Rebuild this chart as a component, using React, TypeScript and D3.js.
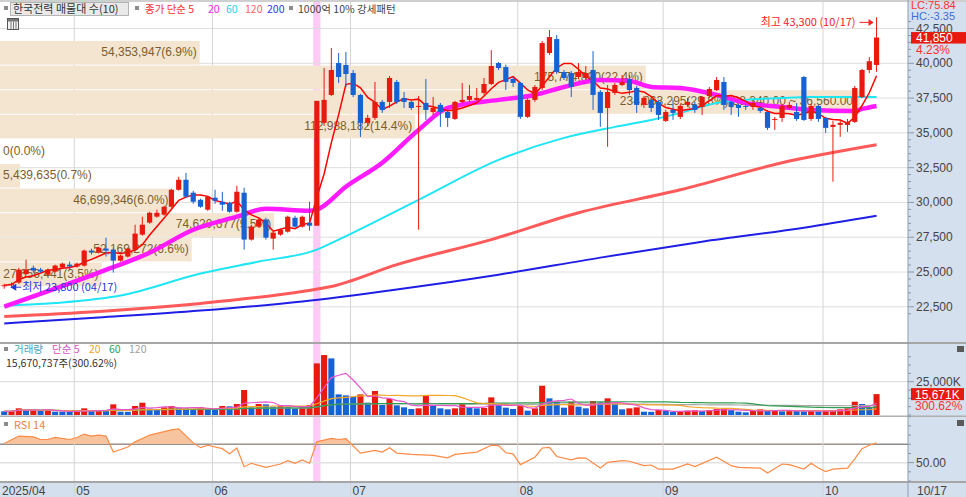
import React, { useEffect, useRef } from 'react';
import * as d3 from 'd3';

// trading days shown on the chart
const dates = [
  '04/17', '04/18', '04/21', '04/22', '04/23', '04/24', '04/25', '04/28', '04/29', '04/30',
  '05/02', '05/07', '05/08', '05/09', '05/12', '05/13', '05/14', '05/15', '05/16', '05/19',
  '05/20', '05/21', '05/22', '05/23', '05/26', '05/27', '05/28', '05/29', '05/30', '06/02',
  '06/04', '06/05', '06/09', '06/10', '06/11', '06/12', '06/13', '06/16', '06/17', '06/18',
  '06/19', '06/20', '06/23', '06/24', '06/25', '06/26', '06/27', '06/30', '07/01', '07/02',
  '07/03', '07/04', '07/07', '07/08', '07/09', '07/10', '07/11', '07/14', '07/15', '07/16',
  '07/17', '07/18', '07/21', '07/22', '07/23', '07/24', '07/25', '07/28', '07/29', '07/30',
  '07/31', '08/01', '08/04', '08/05', '08/06', '08/07', '08/08', '08/11', '08/12', '08/13',
  '08/14', '08/18', '08/19', '08/20', '08/21', '08/22', '08/25', '08/26', '08/27', '08/28',
  '08/29', '09/01', '09/02', '09/03', '09/04', '09/05', '09/08', '09/09', '09/10', '09/11',
  '09/12', '09/15', '09/16', '09/17', '09/18', '09/19', '09/22', '09/23', '09/24', '09/25',
  '09/26', '09/29', '09/30', '10/01', '10/02', '10/10', '10/13', '10/14', '10/15', '10/16',
  '10/17',
];

const opens = [
  24000, 24050, 24240, 24850, 25300, 25170, 24810, 25030, 25320, 25530,
  25390, 25460, 26540, 26400, 26680, 26610, 25820, 26110, 26610, 27690,
  28550, 28980, 29120, 29690, 30910, 31630, 30700, 30190, 29480, 30340,
  30050, 29980, 29330, 30700, 27330, 28260, 28760, 27400, 27690, 27900,
  28900, 28260, 28550, 28330, 35720, 37725, 40020, 39880, 39300, 37725,
  35720, 36075, 37225, 37225, 38660, 37510, 37225, 36865, 37150, 36500,
  37010, 36500, 36000, 37225, 37370, 37370, 37870, 38515, 40020, 39730,
  38870, 38590, 36150, 37370, 38230, 40740, 41740, 39375, 39300, 39015,
  38945, 39520, 37940, 36790, 37870, 38440, 38870, 38230, 37010, 37370,
  37225, 35860, 36650, 36150, 37010, 37010, 36865, 37650, 38080, 38660,
  37225, 37010, 36935, 36865, 36790, 36500, 35930, 36075, 36790, 36500,
  39015, 36000, 36935, 36075, 35430, 35575, 35575, 35790, 37580, 39520,
  39880,
];
const highs = [
  24150, 24250, 25300, 25890, 25460, 25300, 25240, 25530, 25670, 25750,
  25670, 26610, 26680, 26830, 27470, 26750, 26250, 26750, 28400, 28970,
  29330, 29480, 29760, 30980, 31840, 32130, 30840, 30260, 30480, 30910,
  30760, 30050, 31200, 31060, 28400, 28830, 28900, 27900, 28110, 29050,
  29050, 29050, 30050, 37300, 39660, 41100, 40740, 40810, 39520, 37800,
  36300, 38660, 37370, 39090, 38800, 37940, 37300, 37650, 38870, 37580,
  37150, 36650, 37300, 38590, 38440, 38230, 38945, 40950, 40100, 39900,
  39015, 38660, 37500, 38440, 41600, 42390, 42030, 39520, 39450, 40020,
  39805, 40880, 38080, 38440, 38590, 39160, 39160, 38370, 37650, 37510,
  37370, 36650, 37370, 37080, 37510, 37225, 37650, 38300, 39015, 39015,
  37300, 37080, 37080, 37300, 36865, 36650, 36150, 37080, 37225, 37150,
  39090, 37080, 37010, 36150, 35860, 35930, 36000, 38370, 39600, 40450,
  43300,
];
const lows = [
  23800, 23950, 24150, 24800, 24950, 24950, 24740, 24960, 25240, 25170,
  25320, 25390, 26250, 26330, 26110, 24960, 25750, 26040, 26540, 27610,
  28470, 28900, 29050, 29620, 30840, 30340, 29900, 29620, 29400, 29900,
  29400, 29260, 29260, 26610, 27260, 28190, 27330, 26610, 27610, 27830,
  28190, 28190, 27970, 28330, 35500, 37650, 38590, 38300, 37580, 34710,
  35500, 35930, 36435, 36800, 37080, 36790, 36650, 28040, 35930, 36290,
  35430, 35430, 35930, 37150, 37225, 37300, 37725, 38440, 39520, 38080,
  38300, 36000, 36075, 37225, 38080, 40600, 39230, 38800, 37580, 38870,
  38800, 36650, 35430, 34000, 37725, 38370, 37725, 36435, 36790, 36500,
  35930, 35790, 35930, 36000, 36865, 36435, 36290, 37500, 38010, 36650,
  36290, 36150, 36650, 36650, 36435, 35215, 35215, 35790, 36650, 35860,
  35860, 35860, 35790, 35000, 31490, 34715, 35070, 35720, 37500, 39300,
  39380,
];
const closes = [
  24050, 24150, 25170, 25170, 25100, 25030, 25170, 25460, 25600, 25390,
  25600, 26540, 26400, 26750, 26540, 25820, 26180, 26680, 27760, 28400,
  29260, 29260, 29690, 30910, 31630, 30410, 30050, 29690, 30410, 30120,
  29840, 29330, 30770, 27330, 28260, 28760, 27470, 27830, 28040, 28970,
  28260, 28970, 28330, 37300, 37370, 39520, 39015, 39230, 37725, 35720,
  36075, 37225, 36650, 38945, 37225, 37225, 36790, 36935, 36650, 36790,
  36500, 36075, 37225, 37370, 37650, 37510, 38515, 39805, 39660, 38660,
  38590, 36150, 37370, 38300, 41455, 41885, 39375, 38945, 38300, 39375,
  39300, 37725, 36435, 37940, 38440, 38660, 38080, 37010, 37510, 36790,
  36290, 36500, 36435, 36935, 37225, 36650, 37580, 38155, 38800, 37010,
  36865, 36790, 36865, 37150, 36580, 35360, 36000, 36935, 37010, 36000,
  35930, 36935, 36000, 35360, 35575, 35720, 35790, 38230, 39520, 40150,
  41850,
];
// volume in thousand shares
const volumes = [
  2750, 3000, 5000, 3750, 4000, 3000, 3750, 2500, 2400, 2300,
  2600, 5000, 3000, 3750, 3500, 8000, 2500, 2400, 6750, 9250,
  4750, 4250, 5750, 6750, 5500, 5000, 4500, 5750, 4500, 3750,
  6750, 6500, 8250, 18750, 5750, 8250, 8000, 6250, 6750, 6250,
  5000, 6750, 7500, 38750, 45000, 42500, 15500, 14750, 13750, 15500,
  9250, 18000, 7500, 12000, 7250, 5750, 4500, 5000, 14250, 7000,
  5000, 4250, 5000, 8250, 5750, 5000, 5250, 13250, 7500, 5500,
  4500, 6750, 3250, 5000, 22000, 12500, 10000, 5500, 10000, 6250,
  5000, 10500, 9500, 12500, 9250, 4250, 5000, 5750, 2500, 2400,
  3750, 3000, 2250, 2500, 3250, 3500, 3000, 3750, 4500, 4750,
  3750, 2500, 2000, 3250, 4250, 3000, 3750, 2750, 3250, 3000,
  2750, 3000, 2750, 3000, 3250, 4250, 5000, 10000, 8250, 5212.8,
  15670.737,
];

// longer moving averages
const ma20Pts: [string, number][] = [
  ['04/17', 22520], ['05/09', 24960], ['05/20', 26390], ['05/28', 28040], ['06/09', 28975],
  ['06/13', 29550], ['06/23', 29410], ['06/24', 29480], ['06/30', 31130], ['07/07', 32850],
  ['07/14', 35215], ['07/18', 36790], ['07/29', 37370], ['08/05', 37725], ['08/11', 38300],
  ['08/19', 38800], ['08/25', 38730], ['08/28', 38300], ['09/03', 38230], ['09/10', 37725],
  ['09/16', 37150], ['09/23', 36865], ['09/29', 36650], ['10/14', 36580], ['10/15', 36720],
  ['10/17', 36935],
];
const ma60Pts: [string, number][] = [
  ['04/17', 22590], ['04/29', 22810], ['05/14', 23310], ['05/29', 24890], ['06/12', 25750],
  ['06/24', 26610], ['06/27', 27330], ['07/14', 30190], ['07/29', 33060], ['08/11', 34640],
  ['08/21', 35430], ['08/28', 35930], ['09/03', 36435], ['09/10', 37150], ['09/16', 37370],
  ['09/23', 37510], ['09/29', 37580], ['10/17', 37580],
];
const ma120Pts: [string, number][] = [
  ['04/17', 21800], ['05/09', 22160], ['05/29', 22740], ['06/20', 23600], ['06/26', 23955],
  ['07/09', 25530], ['07/28', 27330], ['08/13', 29260], ['09/03', 30910], ['09/23', 32850],
  ['10/17', 34140],
];
const ma200Pts: [string, number][] = [
  ['04/17', 21300], ['05/09', 21730], ['05/29', 22230], ['06/20', 22880], ['07/09', 23740],
  ['07/29', 24810], ['08/19', 26035], ['09/08', 27180], ['09/26', 28185], ['10/17', 29045],
];

// RSI 14
const rsiPts: [string, number][] = [
  ['04/17', 70.8], ['04/21', 78.9], ['04/23', 78.1], ['04/24', 75.2], ['04/25', 75.2],
  ['04/28', 77.4], ['04/30', 75.2], ['05/02', 77.4], ['05/07', 81.1], ['05/08', 78.9],
  ['05/09', 80], ['05/12', 78.9], ['05/13', 61.5], ['05/15', 67], ['05/16', 72.6],
  ['05/19', 76.3], ['05/20', 80], ['05/22', 83.7], ['05/23', 85.6], ['05/26', 86.7],
  ['05/28', 71.5], ['05/29', 66.3], ['05/30', 68.9], ['06/04', 65.2], ['06/05', 59.6],
  ['06/09', 65.9], ['06/10', 45.6], ['06/11', 49.3], ['06/13', 44.8], ['06/17', 48.5],
  ['06/18', 52.2], ['06/19', 49.3], ['06/20', 53], ['06/23', 49.3], ['06/24', 72.6],
  ['06/26', 76.3], ['06/27', 75.2], ['06/30', 76], ['07/02', 60.4], ['07/04', 63.3],
  ['07/07', 61.5], ['07/08', 66.3], ['07/09', 60.4], ['07/11', 58.9], ['07/16', 57.8],
  ['07/18', 55.2], ['07/21', 58.9], ['07/24', 61.5], ['07/28', 68.9], ['07/29', 68.5],
  ['07/30', 60.7], ['07/31', 59.6], ['08/01', 47.8], ['08/05', 55.9], ['08/06', 65.9],
  ['08/07', 66.7], ['08/08', 56.7], ['08/12', 53], ['08/13', 55.2], ['08/14', 55],
  ['08/19', 44.1], ['08/20', 50.3], ['08/22', 52.2], ['08/25', 51.5], ['08/27', 46.7],
  ['08/28', 47.4], ['08/29', 43], ['09/02', 43], ['09/04', 48.5], ['09/05', 45.6],
  ['09/10', 55.9], ['09/12', 46.7], ['09/15', 44.8], ['09/18', 44.1], ['09/19', 38.6],
  ['09/23', 48.5], ['09/24', 47.8], ['09/26', 43], ['09/29', 49.3], ['09/30', 44.1],
  ['10/01', 40.3], ['10/02', 43], ['10/13', 44.1], ['10/14', 54.1], ['10/15', 65.2],
  ['10/16', 68.9], ['10/17', 71.5],
];

// volume profile (매물대), bands from the lowest price up
const profileVolumes = [27656441, 52169272, 74620677, 46699346, 5439635, 0, 112988182, 234063295, 175774890, 54353947];
const profilePcts = ['3.5', '6.6', '9.5', '6.0', '0.7', '0.0', '14.4', '29.8', '22.4', '6.9'];
const profileBottom = 23960;
const profileStep = 1768;
const profileRange = '(38,340.00 ~ 36,560.00)';

const priceTicks = [22500, 25000, 27500, 30000, 32500, 35000, 37500, 40000, 42500];
const monthDates = ['05/02', '06/02', '07/01', '08/01', '09/01', '10/01'];
const monthLabels = ['05', '06', '07', '08', '09', '10'];
const highlightDate = '06/24';

const SANS = "'Liberation Sans', Arial, sans-serif";
const NARROW = "'Liberation Sans Narrow', 'Liberation Sans', Arial, sans-serif";
const KR = "'Noto Sans CJK KR', 'Liberation Sans', sans-serif";
const RED = '#e8190e';
const BLUE = '#1662d4';

function movingAvg(arr: number[], n: number) {
  return arr.map((_, i) => d3.mean(arr.slice(Math.max(0, i - n + 1), i + 1)) as number);
}

function App() {
  const d3Container = useRef<SVGSVGElement>(null);

  useEffect(function () {
    if (!d3Container.current) return;
    const svg = d3.select(d3Container.current);
    svg.selectAll('*').remove();

    const plotR = 908;
    const x = d3.scaleBand<string>().domain(dates).range([0.6, 880.2]);
    const bw = x.bandwidth();
    const cx = (d: string) => (x(d) as number) + bw / 2;
    const y = d3.scaleLinear().domain([22500, 40000]).range([306.8, 63.3]);
    const yv = d3.scaleLinear().domain([0, 25000]).range([415, 381.7]);
    const yr = d3.scaleLinear().domain([30, 100]).range([481, 416.7]);
    const fmt = d3.format(',');

    const defs = svg.append('defs');
    defs.append('clipPath').attr('id', 'clipPrice')
      .append('rect').attr('x', 0).attr('y', 0).attr('width', plotR).attr('height', 342);
    defs.append('clipPath').attr('id', 'clipVol')
      .append('rect').attr('x', 0).attr('y', 344).attr('width', plotR).attr('height', 72);
    defs.append('clipPath').attr('id', 'clipRsiTop')
      .append('rect').attr('x', 0).attr('y', 417).attr('width', plotR).attr('height', yr(70) - 417);

    // backgrounds
    svg.append('rect').attr('width', 966).attr('height', 497).attr('fill', '#ffffff');
    svg.append('rect').attr('x', plotR).attr('y', 0).attr('width', 966 - plotR).attr('height', 497).attr('fill', '#d5e0ef');
    svg.append('rect').attr('x', 0).attr('y', 483).attr('width', 966).attr('height', 14).attr('fill', '#d5e0ef');

    // pattern highlight
    svg.append('rect').attr('x', x(highlightDate) as number).attr('y', 0)
      .attr('width', bw).attr('height', 483).attr('fill', '#ffcaf6');

    // grid
    svg.append('g').selectAll('line').data(priceTicks).join('line')
      .attr('x1', 0).attr('x2', plotR).attr('y1', d => y(d)).attr('y2', d => y(d))
      .attr('stroke', '#dedede');
    svg.append('line').attr('x1', 0).attr('x2', plotR).attr('y1', yv(25000)).attr('y2', yv(25000)).attr('stroke', '#d8d8d8');
    svg.append('line').attr('x1', 0).attr('x2', plotR).attr('y1', yr(50)).attr('y2', yr(50)).attr('stroke', '#e2e2e2').attr('stroke-width', 1.5);
    svg.append('line').attr('x1', 0).attr('x2', plotR).attr('y1', yr(70)).attr('y2', yr(70)).attr('stroke', '#8c8c8c').attr('stroke-width', 1.5);
    svg.append('g').selectAll('line').data(monthDates).join('line')
      .attr('x1', d => (x(d) as number) + 1).attr('x2', d => (x(d) as number) + 1)
      .attr('y1', 0).attr('y2', 497).attr('stroke', '#d4d4d4');

    // volume profile
    const profW = d3.scaleLinear().domain([0, d3.max(profileVolumes) as number]).range([0, 860]);
    const maxBand = d3.maxIndex(profileVolumes);
    const gP = svg.append('g').attr('clip-path', 'url(#clipPrice)');
    profileVolumes.forEach((v, k) => {
      const lo = profileBottom + k * profileStep;
      const top = y(lo + profileStep), bot = y(lo);
      gP.append('rect').attr('x', 0).attr('y', top + 0.5).attr('width', profW(v))
        .attr('height', bot - top - 1).attr('fill', '#f4e5d1');
      let label = `${fmt(v)}(${profilePcts[k]}%)`;
      if (k === maxBand) label += profileRange;
      const est = label.length * 6;
      const fits = profW(v) - 3 - est >= 2;
      gP.append('text').attr('x', fits ? profW(v) - 3 : 3).attr('y', (top + bot) / 2 + 3.5)
        .attr('text-anchor', fits ? 'end' : 'start')
        .attr('font-family', SANS).attr('font-size', 12).attr('fill', '#7a5e2e')
        .text(label);
    });

    // moving averages of price
    const maLine = d3.line<[string, number]>().x(p => cx(p[0])).y(p => y(p[1])).curve(d3.curveMonotoneX);
    const gM = svg.append('g').attr('clip-path', 'url(#clipPrice)').attr('fill', 'none');
    gM.append('path').attr('d', maLine(ma200Pts)).attr('stroke', '#1e1ee6').attr('stroke-width', 2);
    gM.append('path').attr('d', maLine(ma120Pts)).attr('stroke', '#ff5a5a').attr('stroke-width', 3);
    gM.append('path').attr('d', maLine(ma60Pts)).attr('stroke', '#1ee6f5').attr('stroke-width', 2);
    gM.append('path').attr('d', maLine(ma20Pts)).attr('stroke', '#ff1aff').attr('stroke-width', 4.5);

    // candles
    const gC = svg.append('g').attr('clip-path', 'url(#clipPrice)');
    const col = (i: number) => (closes[i] >= opens[i] ? RED : BLUE);
    gC.selectAll('line').data(dates).join('line')
      .attr('x1', d => cx(d)).attr('x2', d => cx(d))
      .attr('y1', (d, i) => y(highs[i])).attr('y2', (d, i) => y(lows[i]))
      .attr('stroke', (d, i) => col(i)).attr('stroke-width', 1);
    gC.selectAll('rect').data(dates).join('rect')
      .attr('x', d => cx(d) - 2.6).attr('width', 5.2)
      .attr('y', (d, i) => y(Math.max(opens[i], closes[i])))
      .attr('height', (d, i) => Math.max(1, Math.abs(y(opens[i]) - y(closes[i]))))
      .attr('fill', (d, i) => col(i));

    // 5-day average of closes
    const ma5 = movingAvg(closes, 5);
    gM.append('path')
      .attr('d', d3.line<number>().x((v, i) => cx(dates[i])).y(v => y(v))(ma5))
      .attr('stroke', '#ff0000').attr('stroke-width', 1.5).attr('fill', 'none');

    // high / low marks
    const hiIdx = d3.maxIndex(highs), loIdx = d3.minIndex(lows);
    const hx = cx(dates[hiIdx]), hy = y(highs[hiIdx]);
    svg.append('text').attr('x', hx - 21).attr('y', hy + 8.5).attr('text-anchor', 'end')
      .attr('font-family', KR).attr('font-size', 11).attr('fill', '#ff2020')
      .text(`최고 ${fmt(highs[hiIdx])} (${dates[hiIdx]})`);
    svg.append('line').attr('x1', hx - 17).attr('x2', hx - 7).attr('y1', hy + 5).attr('y2', hy + 5).attr('stroke', '#ff2020');
    svg.append('path').attr('d', `M${hx - 3},${hy + 5}L${hx - 8},${hy + 1.5}L${hx - 8},${hy + 8.5}Z`).attr('fill', '#ff2020');
    const lx = cx(dates[loIdx]), ly = y(lows[loIdx]);
    svg.append('path').attr('d', `M${lx + 6},${ly - 1.5}L${lx + 12},${ly - 5}L${lx + 12},${ly + 2}Z`).attr('fill', '#2238dc');
    svg.append('line').attr('x1', lx + 11).attr('x2', lx + 17).attr('y1', ly - 1.5).attr('y2', ly - 1.5).attr('stroke', '#2238dc');
    svg.append('text').attr('x', lx + 18).attr('y', ly + 2.5)
      .attr('font-family', KR).attr('font-size', 11).attr('fill', '#2238dc')
      .text(`최저 ${fmt(lows[loIdx])} (${dates[loIdx]})`);

    // volume bars
    const gV = svg.append('g').attr('clip-path', 'url(#clipVol)');
    gV.selectAll('rect').data(dates).join('rect')
      .attr('x', d => (x(d) as number) + 0.6).attr('width', bw - 1.2)
      .attr('y', (d, i) => yv(volumes[i])).attr('height', (d, i) => yv(0) - yv(volumes[i]))
      .attr('fill', (d, i) => (i > 0 && volumes[i] > volumes[i - 1] ? RED : BLUE));
    const vLine = d3.line<number>().x((v, i) => cx(dates[i])).y(v => yv(v));
    [[120, '#a8a8a8'], [60, '#2f9e50'], [20, '#f5a72a'], [5, '#e854cc']].forEach(([n, c]) => {
      gV.append('path').attr('d', vLine(movingAvg(volumes, n as number)))
        .attr('fill', 'none').attr('stroke', c as string).attr('stroke-width', 1.2);
    });

    // RSI
    const rLine = d3.line<[string, number]>().x(p => cx(p[0])).y(p => yr(p[1]));
    const rArea = d3.area<[string, number]>().x(p => cx(p[0])).y0(yr(70)).y1(p => yr(p[1]));
    svg.append('path').attr('d', rArea(rsiPts)).attr('fill', '#f7c4a0').attr('clip-path', 'url(#clipRsiTop)');
    svg.append('path').attr('d', rLine(rsiPts)).attr('fill', 'none').attr('stroke', '#ff8a45').attr('stroke-width', 1.2);

    // panel borders
    svg.append('line').attr('x1', 0).attr('x2', 966).attr('y1', 1).attr('y2', 1).attr('stroke', '#cfcfcf').attr('stroke-width', 2);
    svg.append('line').attr('x1', 0).attr('x2', 966).attr('y1', 343).attr('y2', 343).attr('stroke', '#a6a6a6').attr('stroke-width', 2);
    svg.append('line').attr('x1', 0).attr('x2', 966).attr('y1', 416.3).attr('y2', 416.3).attr('stroke', '#b0b0b0').attr('stroke-width', 1.5);
    svg.append('line').attr('x1', 0).attr('x2', 966).attr('y1', 482).attr('y2', 482).attr('stroke', '#a6a6a6').attr('stroke-width', 2);
    svg.append('line').attr('x1', plotR).attr('x2', plotR).attr('y1', 0).attr('y2', 497).attr('stroke', '#8d9cb3');

    // price axis
    const gA = svg.append('g').attr('font-family', NARROW).attr('font-size', 12).attr('fill', '#444');
    d3.range(22000, 43500, 500).forEach(p => {
      const major = p % 2500 === 0;
      gA.append('line').attr('x1', plotR).attr('x2', plotR + (major ? 6 : 3))
        .attr('y1', y(p)).attr('y2', y(p)).attr('stroke', '#8a97aa');
    });
    priceTicks.forEach(t => {
      gA.append('text').attr('x', 916).attr('y', y(t) + 4).text(fmt(t));
    });
    const last = closes.length - 1;
    const lc = (closes[last] / lows[loIdx] - 1) * 100;
    const hc = (closes[last] / highs[hiIdx] - 1) * 100;
    const chg = (closes[last] / closes[last - 1] - 1) * 100;
    gA.append('text').attr('x', 911).attr('y', 9).attr('font-size', 11).attr('fill', '#ff3030').text(`LC:${lc.toFixed(2)}`);
    gA.append('text').attr('x', 911).attr('y', 20).attr('font-size', 11).attr('fill', '#3a6fd8').text(`HC:${hc.toFixed(2)}`);
    gA.append('rect').attr('x', 911).attr('y', y(closes[last]) - 5.5).attr('width', 55).attr('height', 11.5).attr('fill', RED);
    gA.append('text').attr('x', 916).attr('y', y(closes[last]) + 4.5).attr('fill', '#ffffff').text(fmt(closes[last]));
    gA.append('text').attr('x', 916).attr('y', y(closes[last]) + 16).attr('fill', '#ff3030').text(`${chg.toFixed(2)}%`);

    // volume axis
    d3.range(0, 50000, 6250).forEach(v => {
      if (yv(v) < 346) return;
      gA.append('line').attr('x1', plotR).attr('x2', plotR + (v === 25000 ? 6 : 3))
        .attr('y1', yv(v)).attr('y2', yv(v)).attr('stroke', '#8a97aa');
    });
    gA.append('text').attr('x', 916).attr('y', yv(25000) + 4).text('25,000K');
    const lv = volumes[last];
    gA.append('rect').attr('x', 911).attr('y', yv(lv) - 6).attr('width', 53).attr('height', 12).attr('fill', RED);
    gA.append('text').attr('x', 915).attr('y', yv(lv) + 4.5).attr('fill', '#ffffff').text(`${fmt(Math.round(lv))}K`);
    gA.append('text').attr('x', 915).attr('y', yv(lv) + 15.5).attr('fill', '#ff3030')
      .text(`${(lv / volumes[last - 1] * 100).toFixed(2)}%`);

    // rsi axis
    d3.range(30, 101, 10).forEach(r => {
      gA.append('line').attr('x1', plotR).attr('x2', plotR + (r === 50 ? 6 : 3))
        .attr('y1', yr(r)).attr('y2', yr(r)).attr('stroke', '#8a97aa');
    });
    gA.append('text').attr('x', 916).attr('y', yr(50) + 4).text('50.00');

    // panel icons
    [346, 420].forEach(t => {
      svg.append('rect').attr('x', 957).attr('y', t).attr('width', 7).attr('height', 6).attr('fill', '#5a5a5a');
    });

    // date axis
    const gX = svg.append('g').attr('font-family', NARROW).attr('font-size', 12).attr('fill', '#444');
    gX.append('text').attr('x', 2).attr('y', 495).text('2025/04');
    monthDates.forEach((d, k) => {
      gX.append('text').attr('x', (x(d) as number) + 3).attr('y', 495).text(monthLabels[k]);
    });
    gX.append('text').attr('x', 917).attr('y', 495).text(dates[last]);

    // legends
    const sq = (sx: number, sy: number) =>
      svg.append('rect').attr('x', sx).attr('y', sy).attr('width', 4).attr('height', 4).attr('fill', '#8c8c8c');
    sq(4, 6);
    svg.append('rect').attr('x', 10.5).attr('y', 2.5).attr('width', 118).attr('height', 13)
      .attr('fill', '#e9e9e9').attr('stroke', '#b4b4b4');
    const lg = svg.append('g').attr('font-family', KR).attr('font-size', 10.5);
    lg.append('text').attr('x', 13).attr('y', 13).attr('font-size', 11).attr('fill', '#333').text('한국전력 매물대 수(10)');
    sq(135, 6);
    lg.append('text').attr('x', 145).attr('y', 13).attr('fill', '#ff3030').text('종가 단순 5');
    lg.append('text').attr('x', 208).attr('y', 13).attr('fill', '#ff22ff').text('20');
    lg.append('text').attr('x', 226).attr('y', 13).attr('fill', '#14d6e8').text('60');
    lg.append('text').attr('x', 245).attr('y', 13).attr('fill', '#ff6262').text('120');
    lg.append('text').attr('x', 267).attr('y', 13).attr('fill', '#3434ff').text('200');
    sq(289, 6);
    lg.append('text').attr('x', 298).attr('y', 13).attr('fill', '#444').text('1000억 10% 강세패턴');

    // table icon
    svg.append('rect').attr('x', 7.5).attr('y', 18.5).attr('width', 11).attr('height', 11)
      .attr('fill', '#f2f2f2').attr('stroke', '#555');
    svg.append('rect').attr('x', 8).attr('y', 19).attr('width', 10).attr('height', 2.5).attr('fill', '#777');
    [11, 13.5, 16].forEach(v => {
      svg.append('line').attr('x1', v).attr('x2', v).attr('y1', 21.5).attr('y2', 29).attr('stroke', '#777');
    });

    sq(4, 347);
    lg.append('text').attr('x', 14).attr('y', 353).attr('fill', '#3ea6b8').text('거래량');
    lg.append('text').attr('x', 52).attr('y', 353).attr('fill', '#e050c8').text('단순 5');
    lg.append('text').attr('x', 89).attr('y', 353).attr('fill', '#f2a22a').text('20');
    lg.append('text').attr('x', 109).attr('y', 353).attr('fill', '#30a050').text('60');
    lg.append('text').attr('x', 129).attr('y', 353).attr('fill', '#a0a0a0').text('120');
    lg.append('text').attr('x', 6).attr('y', 367).attr('font-size', 10.5).attr('fill', '#333')
      .text(`${fmt(Math.round(lv * 1000))}주(${(lv / volumes[last - 1] * 100).toFixed(2)}%)`);

    sq(4, 422);
    lg.append('text').attr('x', 14).attr('y', 429).attr('font-size', 11).attr('fill', '#f08040').text('RSI 14');
  }, []);

  return (
    <svg
      ref={d3Container}
      width={966}
      height={497}
      style={{ position: 'absolute', left: 0, top: 0 }}
    />
  );
}

export default App;
